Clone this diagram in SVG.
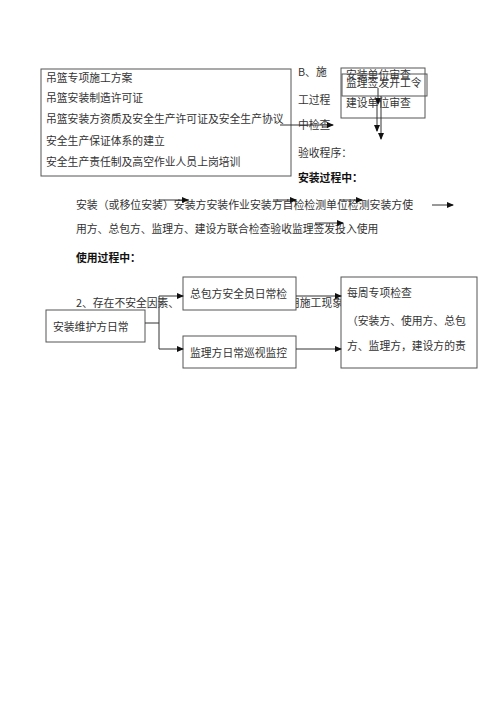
<svg xmlns="http://www.w3.org/2000/svg" width="500" height="708" viewBox="0 0 500 708">
<style>
text{font-family:"Noto Sans CJK SC","Noto Sans",sans-serif;font-size:10.8px;fill:#333}
.b{font-weight:bold;fill:#111}
.box{fill:none;stroke:#555;stroke-width:1}
.wbox{fill:#fff;stroke:#555;stroke-width:1}
.ln{fill:none;stroke:#333;stroke-width:1}
</style>
<defs>
<marker id="ah" markerWidth="7" markerHeight="6" refX="6" refY="3" orient="auto" markerUnits="userSpaceOnUse">
<path d="M0,0 L7,3 L0,6 Z" fill="#111"/>
</marker>
</defs>
<rect width="500" height="708" fill="#fff"/>

<g id="docs">
<rect class="box" x="41" y="69" width="250" height="107"/>
<text x="46" y="82">吊篮专项施工方案</text>
<text x="46" y="102">吊篮安装制造许可证</text>
<text x="46" y="123">吊篮安装方资质及安全生产许可证及安全生产协议</text>
<text x="46" y="145">安全生产保证体系的建立</text>
<text x="46" y="166">安全生产责任制及高空作业人员上岗培训</text>
</g>

<g id="sideText">
<text x="298" y="76">B、施</text>
<text x="298" y="104">工过程</text>
<text x="298" y="129">中检查</text>
<text x="298" y="157">验收程序：</text>
<text class="b" x="298" y="182">安装过程中：</text>
</g>

<g id="review">
<rect class="box" x="341" y="68" width="84" height="50"/>
<text x="346" y="79">安装单位审查</text>
<rect class="box" x="342" y="74" width="85" height="22"/>
<text x="346" y="87">监理签发开工令</text>
<text x="346" y="107">建设单位审查</text>
</g>

<g id="installText">
<text x="76" y="209" textLength="337" lengthAdjust="spacingAndGlyphs">安装（或移位安装）安装方安装作业安装方自检检测单位检测安装方使</text>
<text x="76" y="233">用方、总包方、监理方、建设方联合检查验收监理签发投入使用</text>
<text class="b" x="76" y="262">使用过程中：</text>
</g>

<g id="useText">
<text x="76" y="307">2、存在不安全因素、</text>
<text x="289" y="307">用施工现象</text>
</g>

<g id="maint">
<rect class="wbox" x="46" y="310" width="99" height="32"/>
<text x="53" y="331">安装维护方日常</text>
</g>
<g id="contractor">
<rect class="wbox" x="183" y="277" width="113" height="33"/>
<text x="190" y="298">总包方安全员日常检</text>
</g>
<g id="supervisor">
<rect class="wbox" x="183" y="336" width="113" height="32"/>
<text x="190" y="357">监理方日常巡视监控</text>
</g>
<g id="weekly">
<rect class="wbox" x="341" y="277" width="136" height="91"/>
<text x="347" y="297">每周专项检查</text>
<text x="347" y="325">（安装方、使用方、总包</text>
<text x="347" y="350">方、监理方，建设方的责</text>
</g>

<g id="connectors">
<line class="ln" x1="280" y1="125" x2="333" y2="125" marker-end="url(#ah)"/>
<line class="ln" x1="378" y1="88" x2="378" y2="104" marker-end="url(#ah)"/>
<line class="ln" x1="377" y1="104" x2="377" y2="131" marker-end="url(#ah)"/>
<line class="ln" x1="381" y1="96" x2="381" y2="139" marker-end="url(#ah)"/>
<line class="ln" x1="159" y1="200" x2="188" y2="200" marker-end="url(#ah)"/>
<line class="ln" x1="273" y1="200" x2="296" y2="200" marker-end="url(#ah)"/>
<line class="ln" x1="339" y1="200" x2="362" y2="200" marker-end="url(#ah)"/>
<line class="ln" x1="432" y1="205" x2="453" y2="205" marker-end="url(#ah)"/>
<line class="ln" x1="315" y1="223" x2="343" y2="223" marker-end="url(#ah)"/>
<polyline class="ln" points="145,323 159,323"/>
<line class="ln" x1="159" y1="296" x2="159" y2="349"/>
<line class="ln" x1="159" y1="296" x2="183" y2="296" marker-end="url(#ah)"/>
<line class="ln" x1="159" y1="349" x2="183" y2="349" marker-end="url(#ah)"/>
<line class="ln" x1="296" y1="296" x2="341" y2="296" marker-end="url(#ah)"/>
<line class="ln" x1="296" y1="349" x2="341" y2="349" marker-end="url(#ah)"/>
</g>
</svg>
